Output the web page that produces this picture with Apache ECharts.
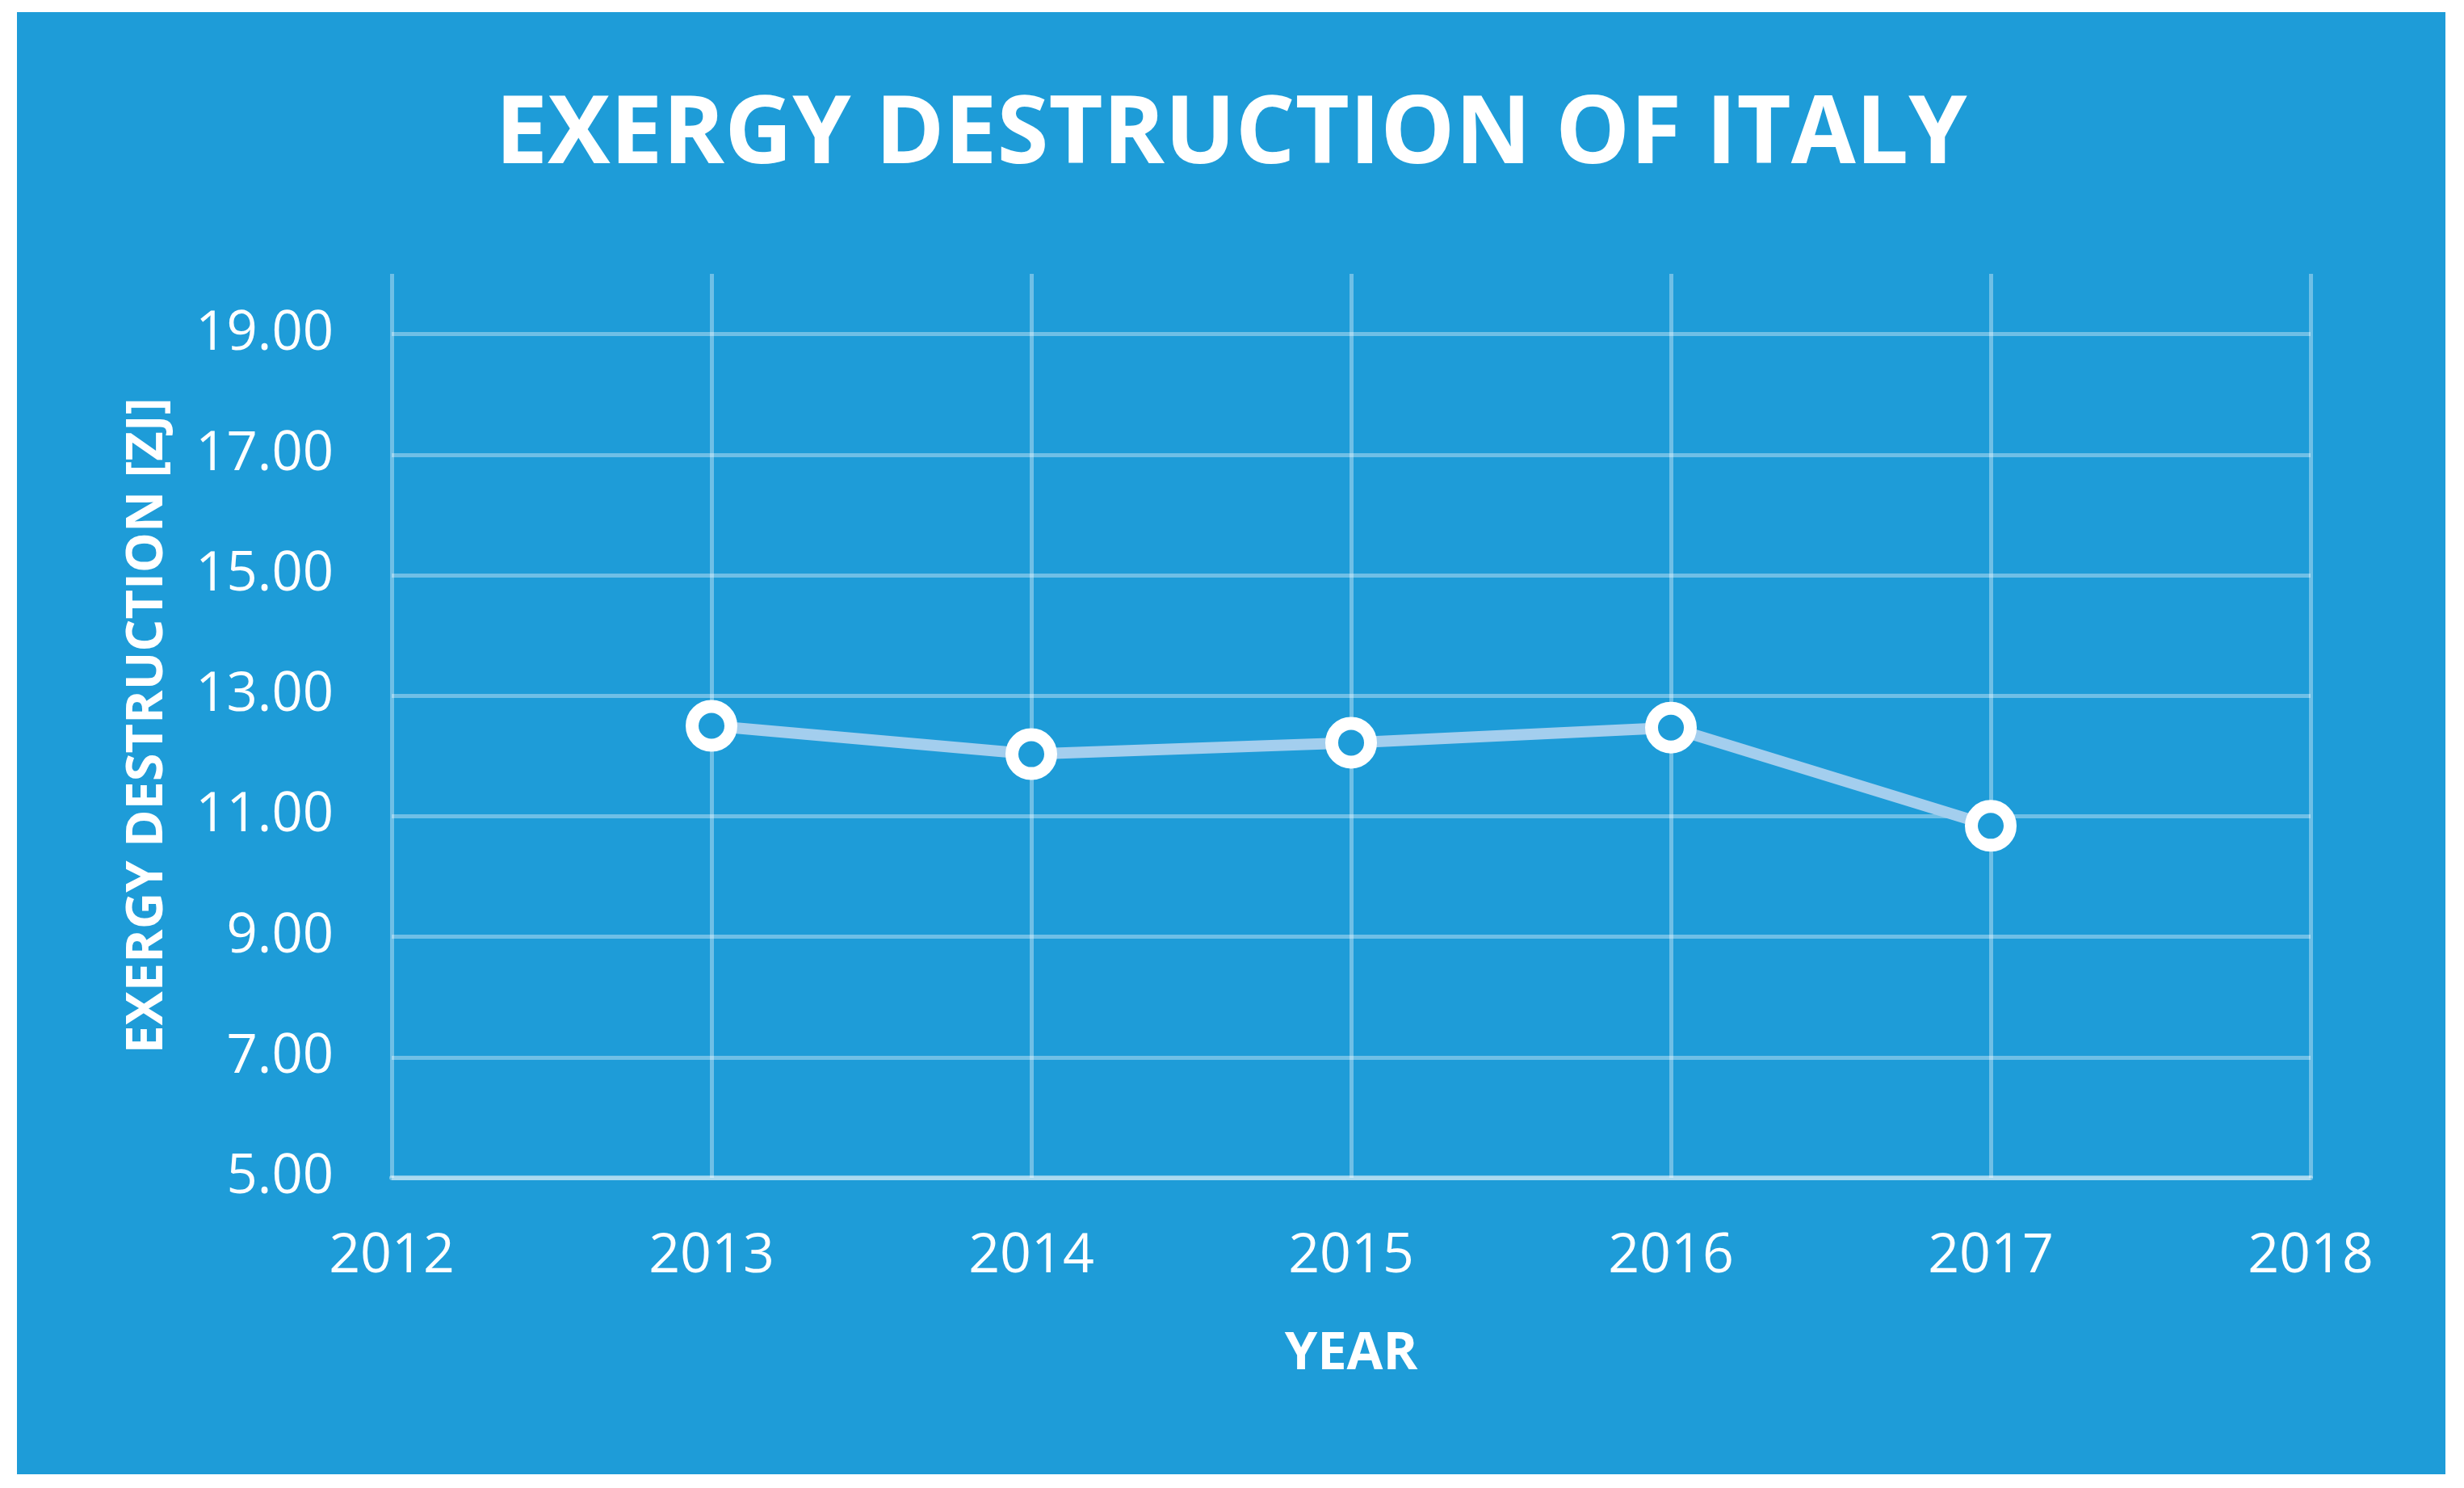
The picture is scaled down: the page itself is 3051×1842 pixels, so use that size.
<!DOCTYPE html>
<html>
<head>
<meta charset="utf-8">
<script src="https://cdn.jsdelivr.net/npm/echarts@6/dist/echarts.min.js"></script>
<style>
  html, body { margin: 0; padding: 0; background: #ffffff; width: 3051px; height: 1842px; overflow: hidden; }
  #chart { position: absolute; left: 21px; top: 15px; width: 3007px; height: 1810px; }
</style>
</head>
<body>
<div id="chart"></div>
<script>
// ---- data ----
const years = [2013, 2014, 2015, 2016, 2017];
const exergyDestruction = [12.50, 12.03, 12.22, 12.47, 10.84];
const titleText = 'EXERGY DESTRUCTION OF ITALY';
const yAxisName = 'EXERGY DESTRUCTION [ZJ]';
const xAxisName = 'YEAR';
const xRange = [2012, 2018];
const yRange = [5, 20];
const yStep = 2;

const BG = '#1E9CD8';
const GRID = 'rgba(255,255,255,0.36)';
const FONT = '"Open Sans", "Noto Sans", sans-serif';

const chart = echarts.init(document.getElementById('chart'), null, { renderer: 'canvas' });
chart.setOption({
  backgroundColor: BG,
  animation: false,
  title: {
    text: titleText,
    left: 'center',
    top: 91,
    textStyle: { color: '#ffffff', fontFamily: FONT, fontWeight: 'bold', fontSize: 116 }
  },
  grid: { left: 464, top: 324, width: 2376, height: 1119, containLabel: false },
  xAxis: {
    type: 'value',
    min: xRange[0], max: xRange[1], interval: 1,
    name: xAxisName,
    nameLocation: 'middle',
    nameGap: 186,
    nameTextStyle: { color: '#ffffff', fontFamily: FONT, fontWeight: 'bold', fontSize: 65 },
    axisLine: { show: true, lineStyle: { color: 'rgba(255,255,255,0.42)', width: 6 } },
    axisTick: { show: false },
    axisLabel: {
      color: '#ffffff', fontFamily: FONT, fontSize: 68, margin: 64,
      formatter: v => String(v)
    },
    splitLine: { show: true, lineStyle: { color: GRID, width: 5 } }
  },
  yAxis: {
    type: 'value',
    min: yRange[0], max: yRange[1], interval: yStep,
    name: yAxisName,
    nameLocation: 'middle',
    nameRotate: 90,
    nameGap: 270,
    nameTextStyle: { color: '#ffffff', fontFamily: FONT, fontWeight: 'bold', fontSize: 63 },
    axisLine: { show: false },
    axisTick: { show: false },
    axisLabel: {
      color: '#ffffff', fontFamily: FONT, fontSize: 67, margin: 72,
      showMaxLabel: false,
      formatter: v => v.toFixed(2)
    },
    splitLine: { show: true, showMaxLine: false, lineStyle: { color: GRID, width: 5 } }
  },
  series: [{
    type: 'line',
    data: years.map((y, i) => [y, exergyDestruction[i]]),
    lineStyle: { color: '#A3CEEE', width: 14 },
    symbol: 'circle',
    symbolSize: 48,
    itemStyle: { color: BG, borderColor: '#ffffff', borderWidth: 16 },
    z: 3
  }]
});
</script>
</body>
</html>
